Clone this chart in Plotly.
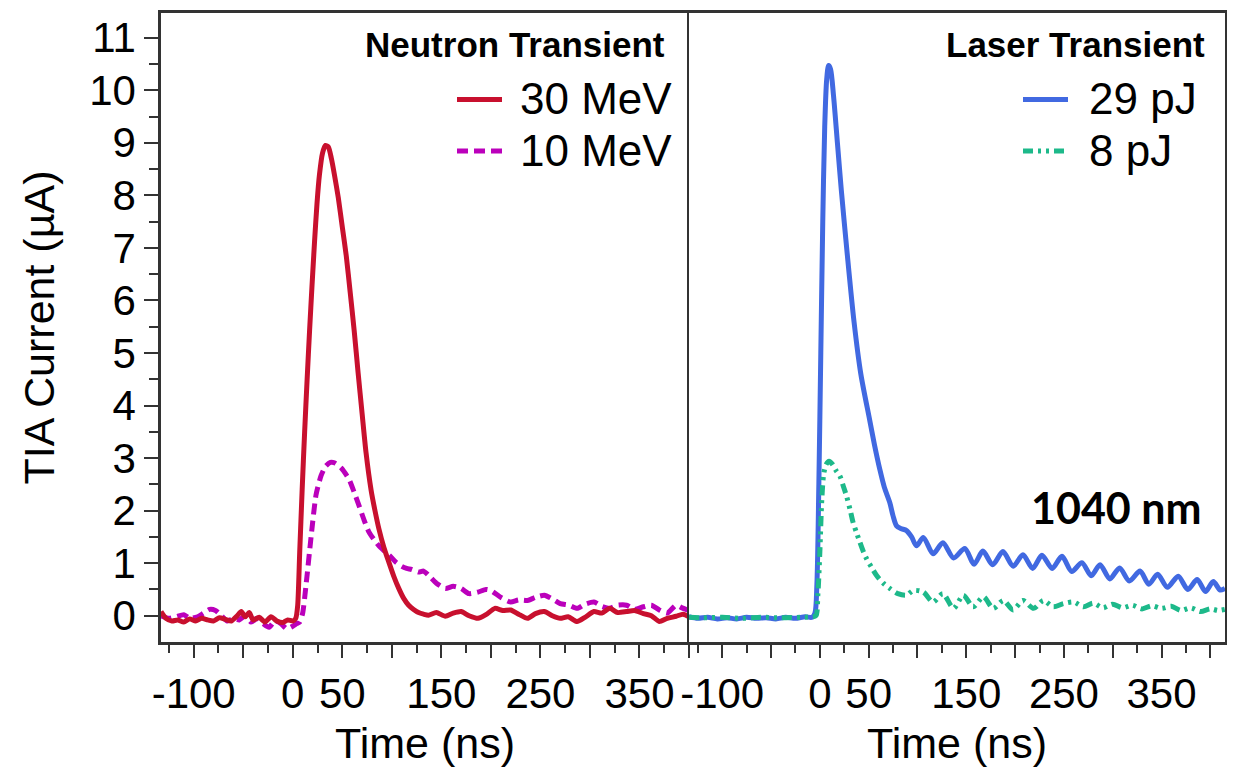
import plotly.graph_objects as go

# ---------------- Neutron transients (left panel) ----------------
n30_t = [-133, -128, -122, -116, -110, -104, -98, -92, -86, -80,
         -74, -68, -62, -56, -52, -48, -44, -40, -34, -28,
         -22, -16, -10, -5, 0, 3, 5, 7, 9.5, 12,
         14.5, 17, 19.5, 22, 24.5, 27, 30, 33, 36, 39,
         42, 46, 50, 54, 58, 62, 66, 70, 74, 79,
         83, 87, 92, 97, 102, 107, 112, 117, 122, 127,
         132, 137, 145, 154, 162, 170, 178, 187, 195, 204,
         212, 220, 228, 237, 245, 254, 262, 270, 278, 287,
         295, 304, 312, 320, 328, 337, 345, 354, 362, 370,
         378, 387, 394, 400]
n30_v = [0.08, -0.05, -0.10, -0.08, -0.12, -0.06, -0.10, -0.05, -0.08, -0.10,
         -0.04, -0.07, -0.10, 0.00, 0.08, -0.02, 0.06, -0.08, -0.03, -0.12,
         -0.02, -0.10, -0.13, -0.08, -0.10, -0.05, 0.20, 1.20, 2.40, 3.50,
         4.50, 5.43, 6.30, 7.12, 7.85, 8.40, 8.80, 8.95, 8.92, 8.70,
         8.40, 7.95, 7.40, 6.85, 6.15, 5.43, 4.62, 3.85, 3.10, 2.40,
         2.00, 1.65, 1.30, 1.02, 0.75, 0.52, 0.33, 0.20, 0.12, 0.06,
         0.03, 0.01, 0.06, -0.01, 0.05, 0.08, 0.00, -0.05, 0.02, 0.14,
         0.10, 0.11, 0.03, -0.05, 0.04, 0.08, 0.00, -0.05, -0.02, -0.11,
         -0.03, 0.08, 0.05, 0.14, 0.06, 0.08, 0.10, 0.04, 0.00, -0.11,
         -0.05, -0.01, 0.03, -0.02]

n10_t = [-133, -125, -118, -110, -104, -96, -90, -84, -78, -72,
         -66, -60, -54, -48, -42, -36, -30, -24, -18, -12,
         -6, 0, 4, 7, 10, 13.5, 18.5, 23.5, 28.5, 33,
         38, 42, 49, 57, 62, 67, 72, 77, 82, 87,
         92, 98, 104, 110, 115, 120, 127, 132, 137, 145,
         154, 162, 170, 178, 187, 195, 200, 210, 220, 228,
         237, 245, 254, 262, 270, 279, 287, 295, 304, 312,
         320, 328, 337, 345, 354, 362, 370, 378, 387, 393,
         400]
n10_v = [0.00, -0.05, -0.02, 0.02, -0.05, -0.02, 0.05, 0.12, 0.10, 0.00,
         -0.10, -0.05, -0.08, 0.00, -0.12, -0.05, -0.15, -0.22, -0.10, -0.15,
         -0.25, -0.20, -0.15, -0.12, 0.05, 0.60, 1.50, 2.30, 2.66, 2.84,
         2.92, 2.91, 2.81, 2.59, 2.35, 2.09, 1.82, 1.59, 1.45, 1.33,
         1.24, 1.14, 1.02, 0.94, 0.90, 0.88, 0.83, 0.85, 0.77, 0.62,
         0.52, 0.56, 0.52, 0.42, 0.45, 0.50, 0.48, 0.35, 0.26, 0.30,
         0.29, 0.35, 0.39, 0.32, 0.23, 0.20, 0.14, 0.22, 0.26, 0.18,
         0.14, 0.20, 0.20, 0.12, 0.17, 0.20, 0.11, 0.05, 0.20, 0.15,
         0.10]

# ---------------- Laser transients (right panel) ----------------
l29_t = [-134, -125, -115, -105, -95, -85, -75, -65, -55, -45,
         -35, -25, -15, -8, -5, -3, -1, 1, 3, 5,
         7, 9, 11, 14, 18, 22, 28, 35, 42, 51,
         56, 61.5, 66, 71.7, 75, 78.6, 83, 88.8, 94, 99,
         106, 116, 126, 137, 148.5, 158, 167, 177, 187.5, 198,
         208, 218, 227.5, 238, 248, 258, 268.4, 278, 287, 297,
         307, 317, 328, 337, 346, 356, 367, 377, 386.5, 395,
         403, 410, 415]
l29_v = [-0.02, -0.05, -0.03, -0.06, -0.04, -0.06, -0.03, -0.05, -0.04, -0.06,
         -0.03, -0.05, -0.02, -0.03, 0.05, 0.60, 2.50, 5.00, 7.50, 9.30,
         10.20, 10.47, 10.40, 9.90, 9.00, 8.10, 6.90, 5.60, 4.60, 3.73,
         3.25, 2.78, 2.45, 2.15, 1.90, 1.71, 1.66, 1.62, 1.50, 1.33,
         1.49, 1.18, 1.39, 1.10, 1.28, 0.98, 1.23, 0.97, 1.22, 0.94,
         1.16, 0.90, 1.15, 0.90, 1.13, 0.84, 1.01, 0.76, 0.97, 0.70,
         0.91, 0.66, 0.85, 0.60, 0.79, 0.54, 0.75, 0.50, 0.69, 0.46,
         0.65, 0.49, 0.52]

l8_t = [-134, -120, -100, -80, -60, -40, -20, -8, -4, -2,
        0, 2, 4, 6.5, 9.5, 13, 17, 20.5, 24, 27.3,
        31, 34, 38, 41, 45, 48, 53, 58, 65, 71.7,
        80, 88.8, 95.6, 106, 116, 126, 137, 147, 157, 167.5,
        177.7, 188, 198, 208, 219, 229, 239, 249.5, 260, 270,
        280, 290, 300, 310, 320, 330, 340, 350, 360, 370,
        380, 390, 400, 408, 415]
l8_v = [-0.03, -0.04, -0.03, -0.05, -0.03, -0.04, -0.03, -0.02, 0.00, 0.40,
        1.20, 2.20, 2.70, 2.88, 2.94, 2.88, 2.75, 2.66, 2.47, 2.28,
        2.02, 1.78, 1.56, 1.40, 1.20, 1.08, 0.92, 0.77, 0.62, 0.52,
        0.42, 0.39, 0.48, 0.45, 0.26, 0.42, 0.14, 0.39, 0.17, 0.36,
        0.14, 0.29, 0.11, 0.29, 0.14, 0.29, 0.17, 0.23, 0.26, 0.17,
        0.24, 0.15, 0.22, 0.15, 0.20, 0.13, 0.19, 0.14, 0.18, 0.10,
        0.15, 0.08, 0.13, 0.10, 0.12]

# ---------------- Axis ticks ----------------
x_major = [-100, -50, 0, 50, 100, 150, 200, 250, 300, 350, 400]
x_major_text = ["-100", "", "0", "50", "", "150", "", "250", "", "350", ""]
x_minor = [-125, -75, -25, 25, 75, 125, 175, 225, 275, 325, 375]
y_major = list(range(0, 12))
y_minor = [0.5, 1.5, 2.5, 3.5, 4.5, 5.5, 6.5, 7.5, 8.5, 9.5, 10.5]

RED = "#C8102E"
MAGENTA = "#BB00BB"
BLUE = "#4169E1"
GREEN = "#1DB98A"
AX = "#333333"
FONT = "Liberation Sans, Arial, sans-serif"
DASH_10 = "11px,6px"
DASH_8 = "10px,5px,3px,5px,3px,5px"

fig = go.Figure()
fig.add_trace(go.Scatter(x=n10_t, y=n10_v, xaxis="x", yaxis="y", mode="lines", name="10 MeV",
                         line=dict(color=MAGENTA, width=5, dash=DASH_10, shape="spline", smoothing=0.6)))
fig.add_trace(go.Scatter(x=n30_t, y=n30_v, xaxis="x", yaxis="y", mode="lines", name="30 MeV",
                         line=dict(color=RED, width=5, shape="spline", smoothing=0.6)))
fig.add_trace(go.Scatter(x=l29_t, y=l29_v, xaxis="x2", yaxis="y2", mode="lines", name="29 pJ",
                         line=dict(color=BLUE, width=5, shape="spline", smoothing=0.8)))
fig.add_trace(go.Scatter(x=l8_t, y=l8_v, xaxis="x2", yaxis="y2", mode="lines", name="8 pJ",
                         line=dict(color=GREEN, width=5, dash=DASH_8, shape="spline", smoothing=0.8)))

x_common = dict(
    tickvals=x_major, ticktext=x_major_text,
    ticks="outside", ticklen=13, tickwidth=2, tickcolor=AX,
    minor=dict(tickvals=x_minor, ticks="outside", ticklen=8, tickwidth=2, tickcolor=AX),
    showline=True, linewidth=2.5, linecolor=AX, mirror=True,
    showgrid=False, zeroline=False,
    tickfont=dict(family=FONT, size=42, color="black"),
    title=dict(text="Time (ns)", font=dict(family=FONT, size=43, color="black"), standoff=12),
)

split = (689 - 161) / 1064

fig.update_layout(
    width=1238, height=769,
    margin=dict(l=161, r=13, t=10, b=126),
    paper_bgcolor="white", plot_bgcolor="white",
    showlegend=False,
    font=dict(family=FONT, size=42, color="black"),
    xaxis=dict(domain=[0, split], range=[-133, 400], anchor="y", **x_common),
    xaxis2=dict(domain=[split, 1], range=[-134, 415], anchor="y2", **x_common),
    yaxis=dict(
        range=[-0.5, 11.47], tickvals=y_major,
        ticks="outside", ticklen=14, tickwidth=2, tickcolor=AX,
        minor=dict(tickvals=y_minor, ticks="outside", ticklen=9, tickwidth=2, tickcolor=AX),
        showline=True, linewidth=2.5, linecolor=AX, mirror=False,
        showgrid=False, zeroline=False,
        tickfont=dict(family=FONT, size=42, color="black"),
        title=dict(text="TIA Current (µA)", font=dict(family=FONT, size=43, color="black"), standoff=22),
    ),
    yaxis2=dict(
        matches="y", anchor="x2", range=[-0.5, 11.47],
        showticklabels=False, ticks="",
        showline=True, linewidth=1.6, linecolor=AX, mirror=True,
        showgrid=False, zeroline=False,
    ),
)


def px_x(px):
    return (px - 161) / 1064


def px_y(py):
    return (643 - py) / 633


# Legend blocks drawn as text + sample strokes
legend_items = [
    # (text, left px of text, centre y px, colour, dash)
    ("30 MeV", 518, 96, RED, "solid"),
    ("10 MeV", 518, 148, MAGENTA, DASH_10),
    ("29 pJ", 1087, 96, BLUE, "solid"),
    ("8 pJ", 1087, 148, GREEN, DASH_8),
]
sample_x = {518: (457, 502), 1087: (1023, 1068)}

annotations = [
    dict(text="<b>Neutron Transient</b>", x=px_x(667), y=px_y(42), xref="paper", yref="paper",
         xanchor="right", yanchor="middle", showarrow=False,
         font=dict(family=FONT, size=35, color="black")),
    dict(text="<b>Laser Transient</b>", x=px_x(1207), y=px_y(42), xref="paper", yref="paper",
         xanchor="right", yanchor="middle", showarrow=False,
         font=dict(family=FONT, size=35, color="black")),
    dict(text="<b>1040 nm</b>", x=px_x(1203), y=px_y(508), xref="paper", yref="paper",
         xanchor="right", yanchor="middle", showarrow=False,
         font=dict(family="Lato, Carlito, sans-serif", size=43, color="black")),
]
shapes = []
for text, left, cy, color, dash in legend_items:
    annotations.append(dict(text=text, x=px_x(left), y=px_y(cy), xref="paper", yref="paper",
                            xanchor="left", yanchor="middle", showarrow=False,
                            font=dict(family=FONT, size=44, color="black")))
    x0, x1 = sample_x[left]
    shapes.append(dict(type="line", xref="paper", yref="paper",
                       x0=px_x(x0), x1=px_x(x1), y0=px_y(cy + 1), y1=px_y(cy + 1),
                       line=dict(color=color, width=5, dash=dash)))

fig.update_layout(annotations=annotations, shapes=shapes)

fig.write_html("out.html")
